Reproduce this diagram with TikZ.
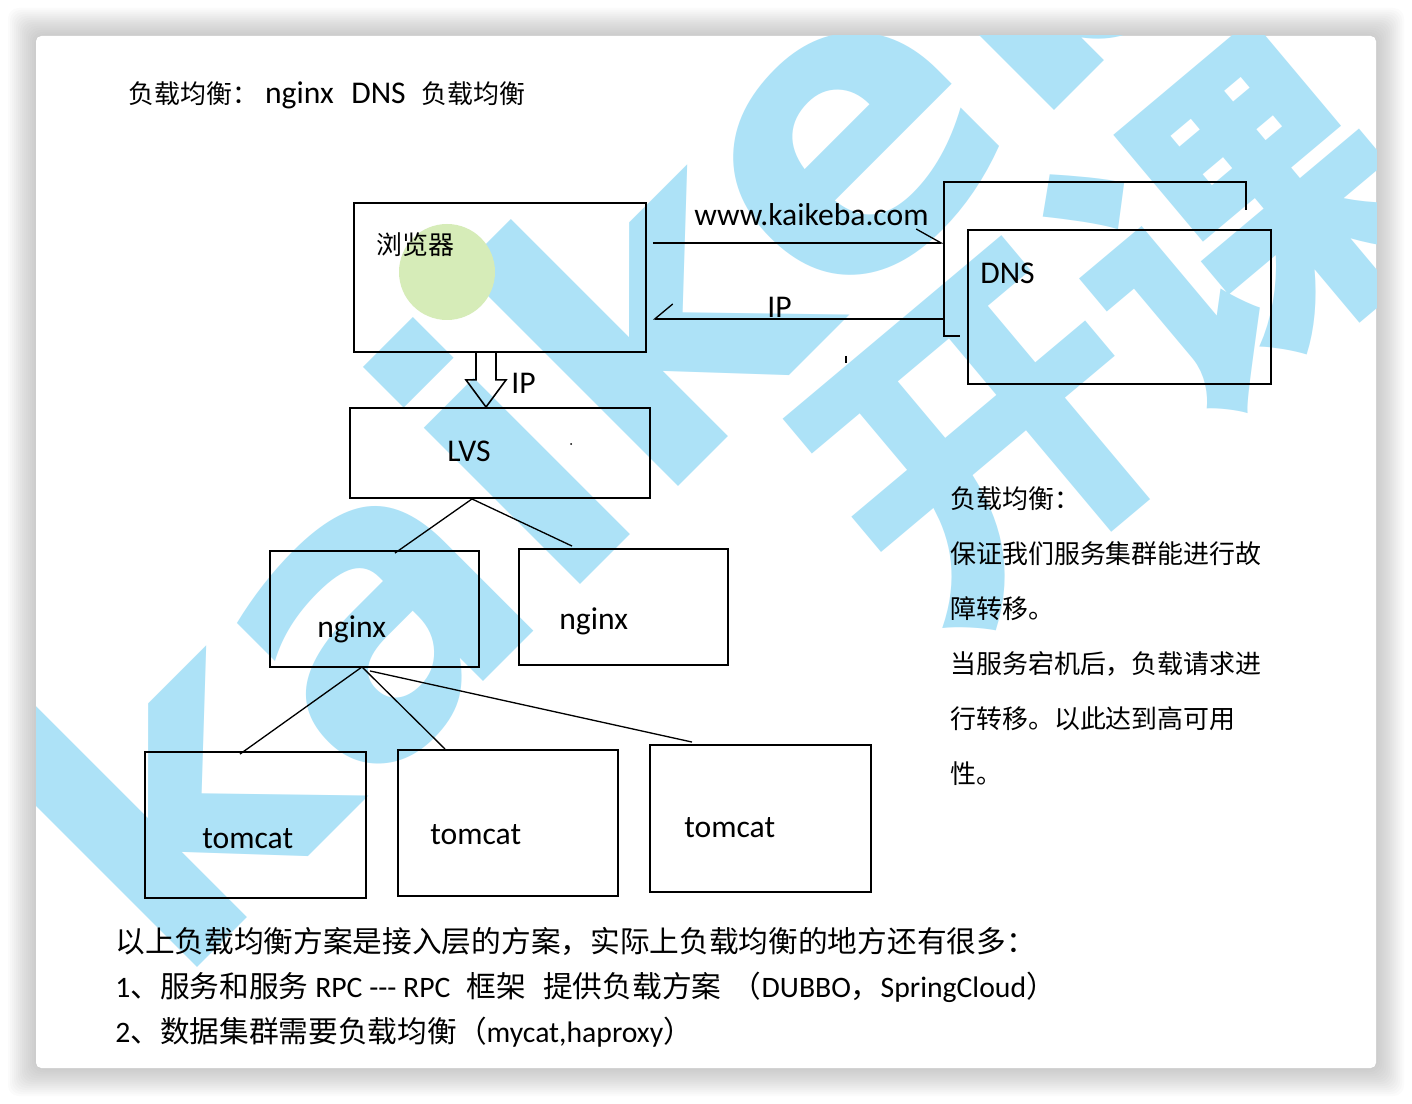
\documentclass[tikz,border=0pt]{standalone}
\usepackage{fontspec}
\setmainfont{Carlito}
\newfontfamily\cjk{Noto Sans CJK SC}[Scale=0.82]
\newfontfamily\zhb{Noto Sans CJK SC}
\newfontfamily\wmfont{DejaVu Sans}
\usetikzlibrary{arrows.meta,calc}
\definecolor{wmblue}{RGB}{173,226,247}
\definecolor{dotgreen}{RGB}{214,236,184}
\tikzset{
  box/.style={draw, line width=1.1pt, inner sep=0pt},
  link/.style={line width=0.75pt},
  lbl/.style={inner sep=0pt, anchor=base west, font=\fontsize{18}{20}\selectfont},
  note/.style={inner sep=0pt, anchor=base west, font=\fontsize{18}{20}\selectfont\cjk},
  foot/.style={inner sep=0pt, anchor=base west, font=\fontsize{16.9}{20}\selectfont},
  barb/.style={-{Straight Barb[harpoon,length=0.5cm,width=0.56cm]}},
  barbswap/.style={-{Straight Barb[harpoon,swap,length=0.36cm,width=0.6cm]}},
}
\begin{document}
\begin{tikzpicture}[x=0.02cm, y=-0.02cm]
  \useasboundingbox (0,0) rectangle (1412,1104);

  % card with soft shadow
  \foreach \s in {1,...,14}
    \fill[black, opacity=0.016, rounded corners=6pt] ({36-2*\s},{36-2*\s}) rectangle ({1376+2*\s},{1068+2*\s});
  \fill[white, rounded corners=3pt] (36,36) rectangle (1376,1068);

  % watermark
  \begin{scope}
    \clip (36,36) rectangle (1376,1068);
    \node[wmblue, rotate=45, inner sep=0pt, font=\fontsize{230}{230}\selectfont\wmfont\bfseries] (wmlatin) at (694,258) {kaikeba};
    \node[wmblue, rotate=40, inner sep=0pt, font=\fontsize{189}{189}\selectfont\zhb\bfseries] (wmzh) at (1110,330) {开课};
  \end{scope}

  % title
  \node[lbl] (title) at (128,104) {{\cjk 负载均衡：}\hspace{4pt}nginx\hspace{10pt}DNS\hspace{9pt}{\cjk 负载均衡}};

  % browser
  \fill[dotgreen] (447,272) circle (48);
  \node[box, minimum width=5.84cm, minimum height=2.98cm] (browser) at (500,277.5) {};
  \node[note] (browserlbl) at (376,255) {浏览器};

  % DNS boxes
  \node[minimum width=6.04cm, minimum height=3.08cm, inner sep=0pt] (dnsback) at (1095,259) {};
  \draw[box] ($(dnsback.south west)+(16,0)$) -- (dnsback.south west) -- (dnsback.north west)
    -- (dnsback.north east) -- ++(0,28);
  \node[box, minimum width=6.06cm, minimum height=3.08cm] (dns) at (1119.5,307) {};
  \node[lbl] (dnslbl) at (980,284) {DNS};

  % request and reply
  \draw[link, barb] ($(browser.east)+(6,-34.5)$) coordinate (reqstart) -- (reqstart -| dnsback.west);
  \node[lbl] (urllbl) at (694,226) {www.kaikeba.com};
  \draw[link, barbswap] ($(dnsback.west)+(0,60)$) coordinate (repstart) -- ($(repstart -| browser.east)+(6,0)$);
  \node[lbl] (iplbl) at (767,318) {IP};
  \draw[link] (846,356) -- (846,363);

  % LVS and hollow arrow
  \node[box, minimum width=6cm, minimum height=1.8cm] (lvs) at (500,453) {};
  \node[lbl] (lvslbl) at (447,461) {LVS};
  \fill (571,444) circle (1);
  \coordinate (ipdown) at ($(browser.south)+(-14,0)$);
  \draw[line width=0.9pt] ($(ipdown)+(-10,0)$) -- ++(0,27) -- ++(-10,0) -- ($(lvs.north)+(-14,0)$)
    -- ($(ipdown)+(20,27)$) -- ++(-10,0) -- ($(ipdown)+(10,0)$);
  \node[lbl] (ipdownlbl) at (511,394) {IP};

  % nginx
  \node[box, minimum width=4.18cm, minimum height=2.32cm] (ngx1) at (374.5,609) {};
  \node[lbl] (ngx1lbl) at (317,637) {nginx};
  \node[box, minimum width=4.18cm, minimum height=2.32cm] (ngx2) at (623.5,607) {};
  \node[lbl] (ngx2lbl) at (559,629) {nginx};
  \draw[link] ($(lvs.south)+(-28,0)$) -- ($(ngx1.north)+(20.5,3)$);
  \draw[link] ($(lvs.south)+(-28,0)$) -- ($(ngx2.north)+(-51.5,-2)$);

  % tomcat
  \node[box, minimum width=4.42cm, minimum height=2.92cm] (tc1) at (255.5,825) {};
  \node[lbl] (tc1lbl) at (202,848) {tomcat};
  \node[box, minimum width=4.4cm, minimum height=2.92cm] (tc2) at (508,823) {};
  \node[lbl] (tc2lbl) at (430,844) {tomcat};
  \node[box, minimum width=4.42cm, minimum height=2.94cm] (tc3) at (760.5,818.5) {};
  \node[lbl] (tc3lbl) at (684,837) {tomcat};
  \draw[link] ($(ngx1.south)+(-12.5,-1)$) -- ($(tc1.north)+(-15.5,3)$);
  \draw[link] ($(ngx1.south)+(-12.5,-1)$) -- ($(tc2.north)+(-63,0)$);
  \draw[link] ($(ngx1.south)+(-4.5,3)$) -- ($(tc3.north)+(-68.5,-2)$);

  % side note
  \node[note] (note1) at (950,508) {负载均衡：};
  \node[note] (note2) at (950,563) {保证我们服务集群能进行故};
  \node[note] (note3) at (950,618) {障转移。};
  \node[note] (note4) at (950,673) {当服务宕机后，负载请求进};
  \node[note] (note5) at (950,728) {行转移。以此达到高可用};
  \node[note] (note6) at (950,783) {性。};

  % footer
  \node[foot] (foot1) at (115,952) {\zhb 以上负载均衡方案是接入层的方案，实际上负载均衡的地方还有很多：};
  \node[foot] (foot2) at (115,997) {1{\zhb 、服务和服务} RPC \mbox{-}\mbox{-}\mbox{-} RPC\hspace{9pt}{\zhb 框架}\hspace{10pt}{\zhb 提供负载方案}\hspace{6pt}{\zhb （}DUBBO{\zhb ，}SpringCloud{\zhb ）}};
  \node[foot] (foot3) at (115,1042) {2{\zhb 、数据集群需要负载均衡（}mycat,haproxy{\zhb ）}};
\end{tikzpicture}
\end{document}
